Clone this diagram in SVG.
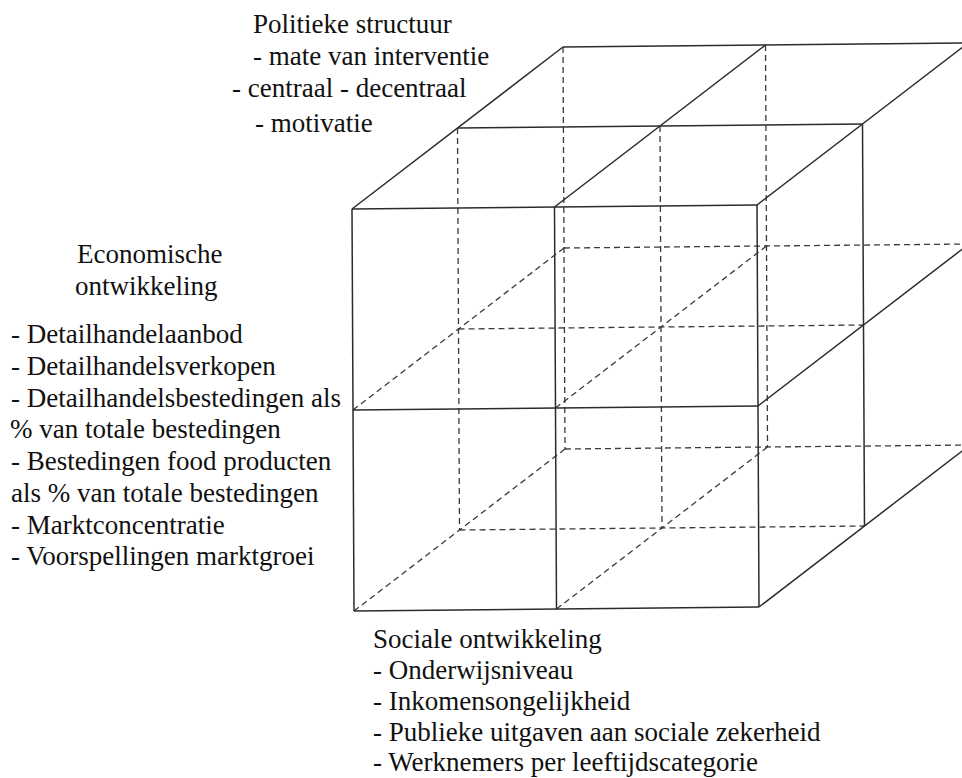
<svg xmlns="http://www.w3.org/2000/svg" width="962" height="778" viewBox="0 0 962 778">
<rect width="962" height="778" fill="#ffffff"/>
<g id="connectors">
  <g id="hidden-edges" stroke="#3a3a3a" stroke-width="1.3" stroke-dasharray="6 4" fill="none">
    <line x1="457.5" y1="128" x2="459.5" y2="530"/>
    <line x1="660" y1="126" x2="662" y2="528"/>
    <line x1="563" y1="47" x2="565" y2="449"/>
    <line x1="765.5" y1="45" x2="767.5" y2="447"/>
    <line x1="458.5" y1="329" x2="863.5" y2="325"/>
    <line x1="459.5" y1="530" x2="864.5" y2="526"/>
    <line x1="564" y1="248" x2="969" y2="244"/>
    <line x1="565" y1="449" x2="970" y2="445"/>
    <line x1="353" y1="410" x2="564" y2="248"/>
    <line x1="555.5" y1="408" x2="766.5" y2="246"/>
    <line x1="354" y1="611" x2="565" y2="449"/>
    <line x1="556.5" y1="609" x2="767.5" y2="447"/>
  </g>
  <g id="visible-edges" stroke="#2b2b2b" stroke-width="1.5" fill="none">
    <line x1="352" y1="209" x2="757" y2="205"/>
    <line x1="353" y1="410" x2="758" y2="406"/>
    <line x1="354" y1="611" x2="759" y2="607"/>
    <line x1="352" y1="209" x2="354" y2="611"/>
    <line x1="554.5" y1="207" x2="556.5" y2="609"/>
    <line x1="757" y1="205" x2="759" y2="607"/>
    <line x1="457.5" y1="128" x2="862.5" y2="124"/>
    <line x1="563" y1="47" x2="968" y2="43"/>
    <line x1="352" y1="209" x2="563" y2="47"/>
    <line x1="554.5" y1="207" x2="765.5" y2="45"/>
    <line x1="757" y1="205" x2="968" y2="43"/>
    <line x1="862.5" y1="124" x2="864.5" y2="526"/>
    <line x1="758" y1="406" x2="969" y2="244"/>
    <line x1="759" y1="607" x2="970" y2="445"/>
  </g>
</g>
<g id="politieke-structuur" fill="#111">
  <text x="253" y="33" font-family="Liberation Serif, serif" font-size="27">Politieke structuur</text>
  <text x="253" y="65" font-family="Liberation Serif, serif" font-size="27">- mate van interventie</text>
  <text x="232" y="97" font-family="Liberation Serif, serif" font-size="27">- centraal - decentraal</text>
  <text x="255" y="132" font-family="Liberation Serif, serif" font-size="27">- motivatie</text>
</g>
<g id="economische-ontwikkeling" fill="#111">
  <text x="77" y="263" font-family="Liberation Serif, serif" font-size="27">Economische</text>
  <text x="75" y="295" font-family="Liberation Serif, serif" font-size="27">ontwikkeling</text>
  <text x="11" y="343" font-family="Liberation Serif, serif" font-size="27">- Detailhandelaanbod</text>
  <text x="11" y="375" font-family="Liberation Serif, serif" font-size="27">- Detailhandelsverkopen</text>
  <text x="11" y="407" font-family="Liberation Serif, serif" font-size="27">- Detailhandelsbestedingen als</text>
  <text x="10" y="438" font-family="Liberation Serif, serif" font-size="27">% van totale bestedingen</text>
  <text x="11" y="470" font-family="Liberation Serif, serif" font-size="27">- Bestedingen food producten</text>
  <text x="11" y="502" font-family="Liberation Serif, serif" font-size="27">als % van totale bestedingen</text>
  <text x="11" y="534" font-family="Liberation Serif, serif" font-size="27">- Marktconcentratie</text>
  <text x="11" y="565" font-family="Liberation Serif, serif" font-size="27">- Voorspellingen marktgroei</text>
</g>
<g id="sociale-ontwikkeling" fill="#111">
  <text x="373" y="648" font-family="Liberation Serif, serif" font-size="27">Sociale ontwikkeling</text>
  <text x="373" y="679" font-family="Liberation Serif, serif" font-size="27">- Onderwijsniveau</text>
  <text x="373" y="710" font-family="Liberation Serif, serif" font-size="27">- Inkomensongelijkheid</text>
  <text x="373" y="741" font-family="Liberation Serif, serif" font-size="27">- Publieke uitgaven aan sociale zekerheid</text>
  <text x="373" y="771" font-family="Liberation Serif, serif" font-size="27">- Werknemers per leeftijdscategorie</text>
</g>
</svg>
